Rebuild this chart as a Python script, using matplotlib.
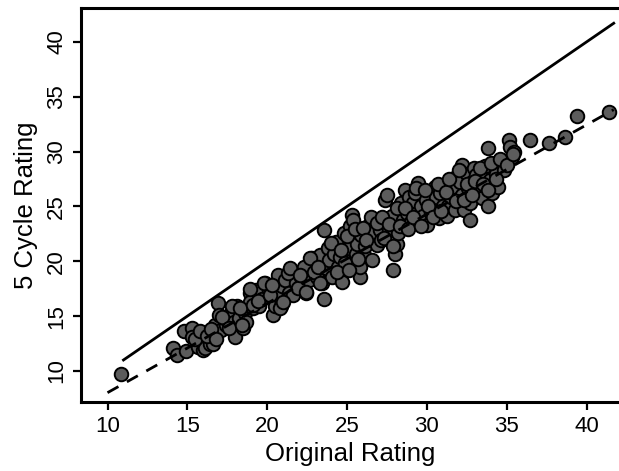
import numpy as np
import matplotlib
matplotlib.use('Agg')
import matplotlib.pyplot as plt

# original rating vs rating after 5 cycles
orig = [10.82, 14.08, 14.33, 14.78, 14.9, 15.3, 15.27, 15.64, 15.9, 16.0,
        16.1, 16.4, 16.6, 16.75, 16.9, 17.0, 17.1, 17.4, 17.5, 17.75,
        17.9, 18.0, 18.1, 18.25, 18.5, 18.6, 18.7, 18.9, 18.95, 19.1,
        19.3, 19.5, 19.7, 19.85, 20.1, 20.35, 20.5, 20.6, 20.7, 20.85,
        20.95, 21.1, 21.35, 21.5, 21.6, 21.8, 22.1, 22.3, 22.45, 22.6,
        22.8, 23.1, 23.2, 23.3, 23.45, 23.55, 23.55, 23.7, 23.8, 23.9,
        24.05, 24.2, 24.3, 24.45, 24.55, 24.7, 24.8, 24.9, 25.05, 25.2,
        25.3, 25.4, 25.55, 25.65, 25.8, 25.8, 25.9, 26.05, 26.15, 26.3,
        26.4, 26.55, 26.65, 26.8, 26.9, 27.05, 27.15, 27.4, 27.5, 27.65,
        27.8, 27.9, 28.0, 28.15, 28.2, 28.4, 28.5, 28.6, 28.75, 28.9,
        29.0, 29.15, 29.25, 29.4, 29.45, 29.6, 29.75, 29.95, 30.0, 30.25,
        30.35, 30.5, 30.6, 30.75, 30.85, 31.0, 31.1, 31.25, 31.35, 31.5,
        31.6, 31.75, 31.85, 32.0, 32.1, 32.2, 32.2, 32.35, 32.5, 32.6,
        32.7, 32.7, 32.85, 32.95, 33.1, 33.2, 33.35, 33.45, 33.6, 33.65,
        33.85, 33.85, 33.95, 34.1, 34.2, 34.35, 34.45, 34.85, 35.15, 35.2,
        35.3, 35.45, 36.45, 37.65, 38.65, 39.4, 41.4,
        # denser part of the cloud
        15.5, 15.8, 16.2, 16.5, 16.8, 17.2, 17.6, 17.8, 18.3, 18.4,
        18.9, 19.1, 19.4, 19.8, 20.2, 20.3, 20.8, 21.0, 21.3, 21.4,
        21.9, 22.05, 22.4, 22.7, 22.9, 23.2, 23.3, 24.0, 24.4, 24.6,
        25.0, 25.1, 25.5, 25.7, 26.0, 26.2, 26.5, 26.9, 27.2, 27.3,
        27.6, 27.9, 28.1, 28.3, 28.6, 28.8, 29.1, 29.3, 29.6, 29.9,
        30.1, 30.4, 30.7, 30.9, 31.2, 31.4, 31.8, 32.0, 32.3, 32.5,
        32.8, 33.0, 33.3, 33.5, 33.8, 34.0, 34.3, 34.6, 35.0, 35.4]
cycle5 = [9.7, 12.07, 11.46, 13.65, 11.85, 13.9, 13.13, 12.2, 12.8, 11.9,
          12.07, 12.5, 12.5, 14.2, 16.2, 15.1, 13.7, 14.2, 14.65, 15.3,
          14.5, 13.1, 15.9, 14.8, 13.9, 15.3, 14.5, 17.1, 16.3, 15.7,
          17.4, 15.9, 16.6, 18.0, 17.4, 15.1, 15.9, 16.9, 18.75, 15.9,
          17.7, 18.3, 17.1, 19.2, 16.9, 18.0, 18.6, 19.5, 17.1, 18.3,
          20.3, 18.6, 19.8, 20.6, 18.0, 22.85, 16.6, 19.4, 21.2, 20.1,
          18.6, 20.7, 21.8, 19.5, 20.4, 18.15, 22.55, 19.8, 21.2, 23.2,
          24.2, 23.8, 20.7, 21.6, 18.6, 19.5, 22.4, 20.55, 21.35, 23.2,
          22.3, 20.1, 22.55, 23.8, 21.5, 22.85, 21.95, 25.6, 26.05, 22.85,
          24.1, 19.2, 20.7, 21.6, 22.55, 25.3, 23.8, 26.5, 24.4, 25.9,
          23.6, 25.3, 26.2, 24.4, 27.1, 25.0, 24.1, 25.6, 23.3, 24.4,
          25.1, 26.8, 25.9, 23.9, 26.2, 25.0, 26.95, 24.1, 25.0, 25.9,
          26.8, 24.7, 27.7, 25.6, 27.25, 28.8, 26.05, 24.7, 28.0, 26.65,
          23.8, 25.3, 27.25, 28.5, 27.9, 26.2, 26.95, 25.8, 28.2, 28.65,
          30.3, 25.0, 27.4, 26.2, 28.9, 28.0, 26.8, 28.3, 31.1, 30.45,
          29.55, 30.0, 31.05, 30.75, 31.35, 33.2, 33.65,
          12.9, 13.6, 13.2, 13.8, 12.9, 14.9, 13.9, 15.9, 15.7, 14.2,
          17.5, 16.0, 16.4, 18.0, 16.9, 17.8, 15.7, 16.3, 18.9, 19.4,
          17.6, 18.75, 17.2, 20.3, 19.0, 19.5, 18.0, 21.7, 19.0, 21.0,
          22.3, 19.2, 22.9, 20.2, 23.0, 21.9, 24.0, 23.5, 24.0, 22.1,
          23.4, 21.4, 24.9, 23.2, 24.9, 22.9, 24.0, 26.7, 23.2, 26.5,
          25.0, 24.0, 27.0, 24.6, 26.3, 27.5, 25.5, 28.3, 25.6, 27.0,
          26.0, 27.3, 28.5, 27.0, 26.5, 29.0, 27.5, 29.3, 28.8, 29.8]

# reference line and fitted line
ref_x = [11.0, 41.7]
fit_x = [10.0, 41.7]
fit_slope = 0.814
fit_icpt = -0.12

plt.rcParams['font.family'] = 'Liberation Sans'

fig = plt.figure(figsize=(6.19, 4.71), dpi=100)
ax = fig.add_axes([81/619, 69/471, 1 - 81/619, 394/471])

ax.scatter(orig, cycle5, s=95, c='#5c5c5c', edgecolors='black', linewidths=1.4, zorder=2)
ax.plot(ref_x, ref_x, color='black', lw=2, zorder=3)
fx = np.array(fit_x)
ax.plot(fx, fit_slope * fx + fit_icpt, color='black', lw=2, ls=(0, (4.5, 3.5)), zorder=3)

ax.set_xlim(8.34, 42.03)
ax.set_ylim(7.17, 43.09)
ax.set_xticks([10, 15, 20, 25, 30, 35, 40])
ax.set_yticks([10, 15, 20, 25, 30, 35, 40])

for s in ['left', 'bottom', 'top']:
    ax.spines[s].set_linewidth(2.2)
ax.spines['right'].set_visible(False)

ax.tick_params(direction='out', length=6, width=1.6, labelsize=16, pad=4)
for lab in ax.get_yticklabels():
    lab.set_rotation(90)
    lab.set_va('center')

ax.set_xlabel('Original Rating', fontsize=18.5, labelpad=4)
ax.set_ylabel('5 Cycle Rating', fontsize=18.5, labelpad=6)

fig.savefig('out.png', dpi=100)
